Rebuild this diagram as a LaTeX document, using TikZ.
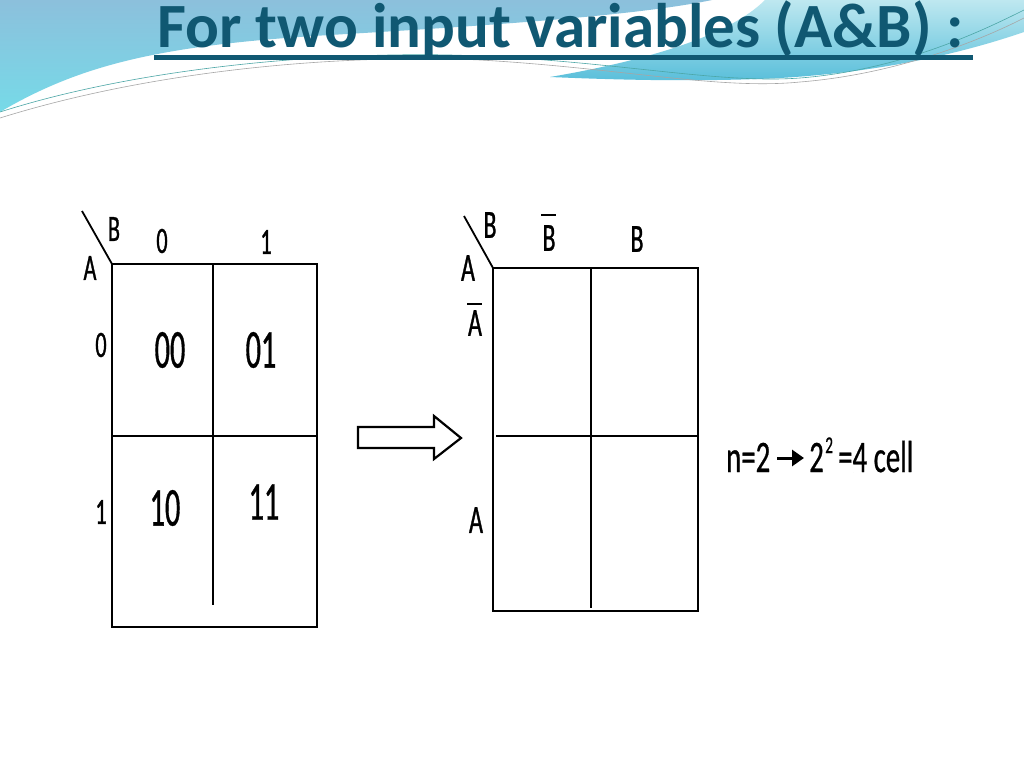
\documentclass[tikz,border=0pt]{standalone}
\usepackage{fontspec}
\setmainfont{Carlito}
\newfontfamily\ttlfont{Carlito}
\newfontfamily\lblfont[FakeStretch=0.6,FakeBold=0.8]{Carlito}
\newfontfamily\celfont[FakeStretch=0.55,FakeBold=0.6]{Carlito}
\newfontfamily\frmfont[FakeStretch=0.64,FakeBold=0.6]{Carlito}
\usetikzlibrary{arrows.meta}
\definecolor{titleteal}{RGB}{16,88,114}
\definecolor{bgblueA}{RGB}{140,192,220}
\definecolor{bgblueB}{RGB}{118,218,232}
\definecolor{bgcyanA}{RGB}{190,232,240}
\definecolor{bgcyanB}{RGB}{88,190,218}
\tikzset{
  grid outer/.style={line width=2.8pt, black},
  grid inner/.style={line width=2.1pt, black},
  lbl/.style={inner sep=0pt, font=\lblfont\fontsize{37}{42}\selectfont},
  lblr/.style={inner sep=0pt, font=\lblfont\fontsize{40}{46}\selectfont},
  cel/.style={inner sep=0pt, font=\celfont\fontsize{55}{60}\selectfont},
  frm/.style={inner sep=0pt, anchor=base west, font=\frmfont\fontsize{45}{50}\selectfont},
  barline/.style={line width=2pt, black},
  thinwave/.style={line width=0.6pt},
}
\begin{document}
\begin{tikzpicture}[x=1pt,y=-1pt]
\useasboundingbox (0,0) rectangle (1024,768);
\fill[white] (0,0) rectangle (1024,768);
% background swooshes
\shade[top color=bgblueA, bottom color=bgblueB]
  (0,0) -- (712,0) .. controls (640,15) and (500,25) .. (330,35)
  .. controls (160,45) and (80,65) .. (0,112) -- cycle;
\shade[top color=bgcyanA, bottom color=bgcyanB]
  (765,0) -- (1024,0) -- (1024,32) .. controls (960,54) and (880,72) .. (780,78)
  .. controls (700,82) and (620,80) .. (550,77)
  .. controls (650,60) and (730,35) .. (765,0) -- cycle;
\draw[thinwave, teal!70]
  (0,112) .. controls (150,64) and (350,50) .. (480,56)
  .. controls (620,62) and (720,84) .. (800,78)
  .. controls (900,70) and (980,32) .. (1024,10);
\draw[thinwave, gray!70]
  (0,118) .. controls (160,68) and (350,54) .. (480,60)
  .. controls (620,68) and (720,90) .. (800,82)
  .. controls (900,74) and (985,38) .. (1024,18);
% title
\node[inner sep=0pt, anchor=base west, text=titleteal,
      font=\ttlfont\bfseries\fontsize{63}{70}\selectfont] (title) at (157,48)
  {For two input variables (A\&B) :};
\coordinate (ulA) at (154,57.5);
\coordinate (ulB) at (973,57.5);
\draw[titleteal, line width=4.5pt] (ulA) -- (ulB);

% ---------- left K-map ----------
\coordinate (Ltl) at (112,264);
\coordinate (Lbr) at (317,627);
\coordinate (Lvt) at (213,264);
\coordinate (Lvb) at (213,605);
\coordinate (Lhl) at (112,436);
\coordinate (Lhr) at (317,436);
\coordinate (Ld) at (82,211);
\draw[grid outer] (Ltl) rectangle (Lbr);
\draw[grid inner] (Lvt) -- (Lvb);
\draw[grid inner] (Lhl) -- (Lhr);
\draw[line width=1.8pt] (Ld) -- (Ltl);
\node[lbl] (LB) at (114,229) {B};
\node[lbl] (LA) at (90,268) {A};
\node[lbl] (Lc0) at (162,241) {0};
\node[lbl] (Lc1) at (266,242) {1};
\node[lbl] (Lr0) at (101,345) {0};
\node[lbl] (Lr1) at (101,512) {1};
\node[cel] (m00) at (170,350) {00};
\node[cel] (m01) at (261,350) {01};
\node[cel] (m10) at (165,508) {10};
\node[cel] (m11) at (264,502) {11};

% ---------- hollow arrow ----------
\draw[line width=2.2pt, fill=white]
  (358,427) -- (434,427) -- (434,416) -- (461,438) -- (434,459) -- (434,448) -- (358,448) -- cycle;

% ---------- right K-map ----------
\coordinate (Rtl) at (493,268);
\coordinate (Rbr) at (698,611);
\coordinate (Rvt) at (591,268);
\coordinate (Rvb) at (591,608);
\coordinate (Rhl) at (496,436);
\coordinate (Rhr) at (698,436);
\coordinate (Rd) at (464,216);
\draw[grid outer] (Rtl) rectangle (Rbr);
\draw[grid inner] (Rvt) -- (Rvb);
\draw[grid inner] (Rhl) -- (Rhr);
\draw[line width=1.8pt] (Rd) -- (Rtl);
\node[lblr] (RB) at (490,225) {B};
\node[lblr] (RA) at (468,268) {A};
\node[lblr] (RBn) at (549,238) {B};
\node[lblr] (RBp) at (637,239) {B};
\node[lblr] (RAn) at (475,323) {A};
\node[lblr] (RAp) at (476,520) {A};
\coordinate (bbL) at (541,215);
\coordinate (bbR) at (556,215);
\draw[barline] (bbL) -- (bbR);
\coordinate (abL) at (467,304);
\coordinate (abR) at (482,304);
\draw[barline] (abL) -- (abR);

% ---------- formula ----------
\node[frm] (fn) at (726,472) {n=2};
\coordinate (faS) at (777,458);
\coordinate (faE) at (804,458);
\draw[line width=3pt, -{Triangle[length=12pt,width=16pt]}] (faS) -- (faE);
\node[frm] (f2) at (809,472) {2};
\node[inner sep=0pt, anchor=base west, font=\frmfont\fontsize{24}{26}\selectfont] (fsup) at (825,453) {2};
\node[frm] (frest) at (838,472) {=4 cell};
\end{tikzpicture}
\end{document}
